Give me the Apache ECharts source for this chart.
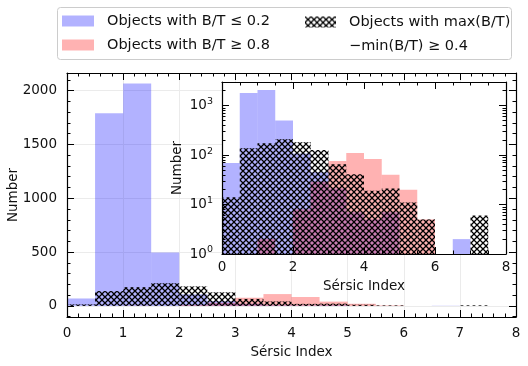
<!DOCTYPE html>
<html>
<head>
<meta charset="utf-8">
<script src="https://cdn.jsdelivr.net/npm/echarts@6/dist/echarts.min.js"></script>
<style>
html, body { margin: 0; padding: 0; background: #fff; }
#chart { width: 528px; height: 366px; }
</style>
</head>
<body>
<div id="chart"></div>
<script>
// histogram bins (Sérsic index), width 0.5
var binEdges = [0, 0.5, 1, 1.5, 2, 2.5, 3, 3.5, 4, 4.5, 5, 5.5, 6, 6.5, 7, 7.5, 8];
// counts per bin
var countsLowBT = [69, 1790, 2065, 497, 108, 45, 21, 7, 5, 7, 0, 0, 0, 2, 0, 0];
var countsHighBT = [0, 0, 2, 0, 8, 29, 76, 110, 83, 40, 20, 5, 0, 0, 0, 0];
var countsVarBT = [14, 138, 174, 210, 181, 126, 65, 41, 19, 21, 11, 5, 0, 0, 6, 0];

var nameLow = 'Objects with B/T \u2264 0.2';
var nameHigh = 'Objects with B/T \u2265 0.8';
var nameVar = 'Objects with max(B/T)\n\u2212min(B/T) \u2265 0.4';

var FONT = 'DejaVu Sans';
var BLUE = 'rgba(0,0,255,0.3)';
var RED = 'rgba(255,0,0,0.3)';

// cross hatch tile
function makeHatch() {
    var c = document.createElement('canvas');
    c.width = 6;
    c.height = 6;
    var g = c.getContext('2d');
    g.strokeStyle = '#000';
    g.lineWidth = 1.25;
    g.beginPath();
    g.moveTo(-1, -1); g.lineTo(7, 7);
    g.moveTo(7, -1); g.lineTo(-1, 7);
    g.stroke();
    return c;
}
var HATCH = { image: makeHatch(), repeat: 'repeat' };

function binData(counts) {
    return counts.map(function (v, i) {
        return [binEdges[i], binEdges[i + 1], v];
    });
}

// base: value where the bars start (0 linear, 1 on log axis)
function histRender(base, fill) {
    return function (params, api) {
        var v = api.value(2);
        if (!(v > 0)) return null;
        var p0 = api.coord([api.value(0), v]);
        var p1 = api.coord([api.value(1), base]);
        var shape = echarts.graphic.clipRectByRect({
            x: p0[0], y: p0[1], width: p1[0] - p0[0], height: p1[1] - p0[1]
        }, params.coordSys);
        if (!shape) return null;
        return { type: 'rect', shape: shape, style: { fill: fill } };
    };
}

var logMinor = [];
[1, 10, 100, 1000].forEach(function (d) {
    for (var k = 2; k <= 9; k++) if (d * k < 3000) logMinor.push(d * k);
});

var lineBlack = { show: true, onZero: false, lineStyle: { color: '#000', width: 1.2 } };
var noLine = { show: false, onZero: false };
var labelStyle = { fontFamily: FONT, fontSize: 13.5, color: '#111' };
var legendStyle = { fontFamily: FONT, fontSize: 14.5, color: '#111' };
var majorTick = { show: true, inside: true, length: 7, lineStyle: { color: '#000' } };
var minorTick5 = { show: true, splitNumber: 5, length: 3.5, lineStyle: { color: '#000' } };
var minorTick4 = { show: true, splitNumber: 4, length: 3.5, lineStyle: { color: '#000' } };

function ax(grid, extra) {
    return Object.assign({
        type: 'value', gridIndex: grid,
        axisLine: lineBlack,
        axisTick: majorTick,
        minorTick: minorTick5,
        axisLabel: { show: false },
        splitLine: { show: false },
        nameMoveOverlap: false
    }, extra);
}

var chart = echarts.init(document.getElementById('chart'));
var option = {
    animation: false,
    backgroundColor: '#fff',
    textStyle: { fontFamily: FONT },
    grid: [
        { left: 67, right: 12, top: 73, bottom: 49, z: 0, outerBoundsMode: 'none', containLabel: false },
        { left: 222, right: 22, top: 82, bottom: 112, show: true, backgroundColor: '#fff', borderWidth: 0, z: 5,
          outerBoundsMode: 'none', containLabel: false }
    ],
    graphic: [{
        type: 'rect', left: 57, top: 7, z: 0,
        shape: { width: 454, height: 52, r: 3 },
        style: { fill: '#fff', stroke: '#ccc', lineWidth: 1 }
    }],
    legend: [
        {
            left: 62, top: 11, orient: 'vertical', padding: 0, itemGap: 4,
            itemWidth: 32, itemHeight: 11, selectedMode: false,
            textStyle: Object.assign({ padding: [0, 0, 0, 8], lineHeight: 20 }, legendStyle),
            data: [
                { name: nameLow, icon: 'rect', itemStyle: { color: BLUE } },
                { name: nameHigh, icon: 'rect', itemStyle: { color: RED } }
            ]
        },
        {
            left: 305, top: -14, padding: 0,
            itemWidth: 31, itemHeight: 11, selectedMode: false,
            // blank first line keeps the first text line level with the icon
            formatter: function (n) { return ' \n' + n; },
            textStyle: Object.assign({ padding: [0, 0, 0, 8], lineHeight: 24 }, legendStyle),
            data: [{ name: nameVar, icon: 'rect', itemStyle: { color: HATCH } }]
        }
    ],
    xAxis: [
        // main: gridlines
        ax(0, { min: 0, max: 8, interval: 1, axisLine: noLine, axisTick: { show: false }, minorTick: { show: false },
            splitLine: { show: true, lineStyle: { color: '#ebebeb', width: 1 } }, z: 0 }),
        // main bottom
        ax(0, { min: 0, max: 8, interval: 1, position: 'bottom', z: 3,
            axisLabel: Object.assign({ show: true, margin: 9 }, labelStyle),
            name: 'S\u00e9rsic Index', nameLocation: 'middle', nameGap: 28, nameTextStyle: labelStyle }),
        // main top
        ax(0, { min: 0, max: 8, interval: 1, position: 'top', z: 3 }),
        // inset bottom
        ax(1, { min: 0, max: 8, interval: 2, position: 'bottom', z: 10, minorTick: minorTick4,
            axisLabel: Object.assign({ show: true, margin: 6 }, labelStyle),
            name: 'S\u00e9rsic Index', nameLocation: 'middle', nameGap: 25, nameTextStyle: labelStyle }),
        // inset top
        ax(1, { min: 0, max: 8, interval: 2, position: 'top', z: 10, minorTick: minorTick4 })
    ],
    yAxis: [
        ax(0, { min: -103, max: 2163, axisLine: noLine, axisTick: { show: false }, minorTick: { show: false },
            splitLine: { show: true, lineStyle: { color: '#ebebeb', width: 1 } }, z: 0 }),
        ax(0, { min: -103, max: 2163, position: 'left', z: 3,
            axisLabel: Object.assign({ show: true, margin: 10, showMinLabel: false, showMaxLabel: false,
                formatter: function (v) { return String(v); } }, labelStyle),
            name: 'Number', nameLocation: 'middle', nameGap: 47, nameTextStyle: labelStyle }),
        ax(0, { min: -103, max: 2163, position: 'right', z: 3 }),
        // inset log axes
        ax(1, { type: 'log', logBase: 10, min: 1, max: 3000, position: 'left', z: 10, minorTick: { show: false },
            axisLabel: {
                show: true, margin: 9, showMaxLabel: false,
                formatter: function (v) { return '{b|10}{s|' + Math.round(Math.log10(v)) + '}'; },
                rich: {
                    b: { fontFamily: FONT, fontSize: 13.5, color: '#111' },
                    s: { fontFamily: FONT, fontSize: 9.5, color: '#111', padding: [0, 0, 8, 0] }
                }
            },
            name: 'Number', nameLocation: 'middle', nameGap: 38, nameTextStyle: labelStyle }),
        ax(1, { type: 'log', logBase: 10, min: 1, max: 3000, position: 'right', z: 10, minorTick: { show: false } }),
        ax(1, { type: 'log', logBase: 10, min: 1, max: 3000, position: 'left', z: 10, axisLine: noLine, minorTick: { show: false },
            axisTick: { show: true, inside: true, length: 3.5, customValues: logMinor, lineStyle: { color: '#000' } } }),
        ax(1, { type: 'log', logBase: 10, min: 1, max: 3000, position: 'right', z: 10, axisLine: noLine, minorTick: { show: false },
            axisTick: { show: true, inside: true, length: 3.5, customValues: logMinor, lineStyle: { color: '#000' } } })
    ],
    series: [
        // main panel
        { type: 'custom', name: nameLow, xAxisIndex: 0, yAxisIndex: 0, z: 2, itemStyle: { color: BLUE },
          renderItem: histRender(0, BLUE), data: binData(countsLowBT) },
        { type: 'custom', name: nameHigh, xAxisIndex: 0, yAxisIndex: 0, z: 2, itemStyle: { color: RED },
          renderItem: histRender(0, RED), data: binData(countsHighBT) },
        { type: 'custom', name: nameVar, xAxisIndex: 0, yAxisIndex: 0, z: 2, itemStyle: { color: HATCH },
          renderItem: histRender(0, HATCH), data: binData(countsVarBT) },
        // inset, log scale
        { type: 'custom', name: nameLow, xAxisIndex: 3, yAxisIndex: 3, z: 8,
          renderItem: histRender(1, BLUE), data: binData(countsLowBT) },
        { type: 'custom', name: nameHigh, xAxisIndex: 3, yAxisIndex: 3, z: 8,
          renderItem: histRender(1, RED), data: binData(countsHighBT) },
        { type: 'custom', name: nameVar, xAxisIndex: 3, yAxisIndex: 3, z: 8,
          renderItem: histRender(1, HATCH), data: binData(countsVarBT) }
    ]
};
chart.setOption(option);
</script>
</body>
</html>
